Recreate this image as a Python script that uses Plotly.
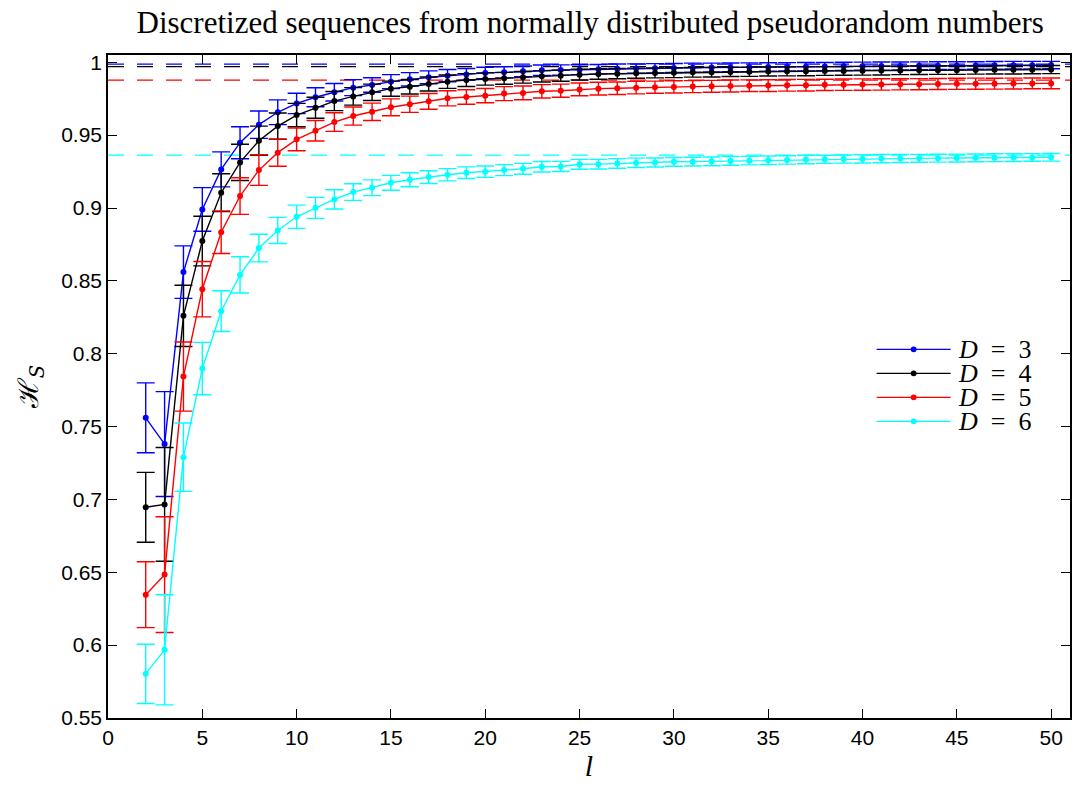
import plotly.graph_objects as go

# Block length l
l_values = list(range(2, 51))

# Mean normalized entropy H_S for each embedding dimension D
h_d3 = [0.756, 0.738, 0.856, 0.899, 0.9265, 0.9448, 0.9572, 0.9657, 0.9718, 0.976,
        0.9794, 0.9826, 0.9844, 0.9867, 0.9883, 0.9897, 0.9908, 0.9917, 0.9927, 0.9931,
        0.9938, 0.9945, 0.9947, 0.9949, 0.9952, 0.9955, 0.9957, 0.9959, 0.9961, 0.9963,
        0.9964, 0.9965, 0.9966, 0.9968, 0.9969, 0.997, 0.9971, 0.9972, 0.9973, 0.9974,
        0.9975, 0.9976, 0.9977, 0.9977, 0.9978, 0.9979, 0.998, 0.998, 0.9981]
h_d4 = [0.6946, 0.6966, 0.826, 0.8773, 0.9105, 0.9313, 0.9462, 0.9562, 0.9638, 0.9688,
        0.9734, 0.9766, 0.9794, 0.9819, 0.9832, 0.9851, 0.9867, 0.9878, 0.9885, 0.989,
        0.9897, 0.9904, 0.9908, 0.9915, 0.992, 0.9922, 0.9925, 0.9927, 0.9929, 0.9931,
        0.9932, 0.9934, 0.9935, 0.9937, 0.9938, 0.9939, 0.994, 0.9941, 0.9942, 0.9943,
        0.9944, 0.9945, 0.9946, 0.9946, 0.9947, 0.9948, 0.9948, 0.9949, 0.995]
h_d5 = [0.6346, 0.6484, 0.7843, 0.8443, 0.8834, 0.9082, 0.926, 0.938, 0.9471, 0.953,
        0.959, 0.9631, 0.966, 0.9691, 0.9712, 0.9732, 0.9753, 0.9762, 0.9771, 0.9785,
        0.979, 0.9801, 0.9805, 0.9814, 0.9819, 0.9822, 0.9826, 0.9829, 0.9831, 0.9833,
        0.9835, 0.9837, 0.9839, 0.984, 0.9842, 0.9843, 0.9845, 0.9846, 0.9847, 0.9848,
        0.9849, 0.985, 0.9851, 0.9852, 0.9853, 0.9853, 0.9854, 0.9855, 0.9855]
h_d6 = [0.5803, 0.5968, 0.729, 0.7898, 0.8292, 0.8541, 0.8725, 0.8846, 0.894, 0.9001,
        0.9059, 0.9109, 0.9139, 0.9173, 0.9194, 0.9212, 0.9228, 0.9242, 0.9249, 0.926,
        0.9269, 0.9283, 0.9285, 0.93, 0.9301, 0.9306, 0.931, 0.9312, 0.9317, 0.9318,
        0.932, 0.9323, 0.9325, 0.9328, 0.933, 0.9333, 0.9334, 0.9336, 0.9337, 0.9339,
        0.934, 0.9341, 0.9342, 0.9343, 0.9344, 0.9345, 0.9346, 0.9347, 0.9348]

# Standard deviations (error bar half-lengths)
sd_d3 = [0.024, 0.036, 0.018, 0.015, 0.012, 0.011, 0.0094, 0.0085, 0.007, 0.0065,
         0.006, 0.0055, 0.005, 0.0048, 0.0046, 0.0044, 0.0042, 0.004, 0.0039, 0.0038,
         0.0037, 0.0036, 0.0035, 0.0034, 0.0033, 0.0033, 0.0032, 0.0032, 0.0031, 0.0031,
         0.003, 0.003, 0.003, 0.0029, 0.0029, 0.0029, 0.0028, 0.0028, 0.0028, 0.0028,
         0.0027, 0.0027, 0.0027, 0.0027, 0.0026, 0.0026, 0.0026, 0.0026, 0.0025]
sd_d4 = [0.024, 0.039, 0.021, 0.017, 0.013, 0.0124, 0.01, 0.009, 0.008, 0.0072,
         0.0066, 0.006, 0.0056, 0.0052, 0.005, 0.0048, 0.0046, 0.0044, 0.0042, 0.0041,
         0.004, 0.0039, 0.0038, 0.0037, 0.0036, 0.0035, 0.0035, 0.0034, 0.0034, 0.0033,
         0.0033, 0.0032, 0.0032, 0.0031, 0.0031, 0.0031, 0.003, 0.003, 0.003, 0.003,
         0.0029, 0.0029, 0.0029, 0.0029, 0.0028, 0.0028, 0.0028, 0.0028, 0.0028]
sd_d5 = [0.0226, 0.0397, 0.0237, 0.019, 0.0146, 0.0126, 0.0105, 0.0093, 0.0078, 0.007,
         0.0064, 0.0062, 0.006, 0.0058, 0.0056, 0.0054, 0.0052, 0.005, 0.0049, 0.0048,
         0.0047, 0.0046, 0.0045, 0.0044, 0.0044, 0.0043, 0.0043, 0.0042, 0.0042, 0.0041,
         0.0041, 0.0041, 0.004, 0.004, 0.004, 0.004, 0.0039, 0.0039, 0.0039, 0.0039,
         0.0038, 0.0038, 0.0038, 0.0038, 0.0038, 0.0037, 0.0037, 0.0037, 0.0037]
sd_d6 = [0.0203, 0.0378, 0.0235, 0.018, 0.014, 0.0124, 0.0095, 0.009, 0.008, 0.0072,
         0.0066, 0.0057, 0.0054, 0.0051, 0.0048, 0.0044, 0.0042, 0.004, 0.0039, 0.0038,
         0.0037, 0.0036, 0.0035, 0.0034, 0.0033, 0.0033, 0.0032, 0.0031, 0.003, 0.003,
         0.003, 0.003, 0.0029, 0.0029, 0.0029, 0.0029, 0.0028, 0.0028, 0.0028, 0.0028,
         0.0028, 0.0027, 0.0027, 0.0027, 0.0027, 0.0027, 0.0027, 0.0026, 0.0026]

# Asymptotic (limit) values drawn as dashed reference lines
limit_d3 = 0.9988
limit_d4 = 0.997
limit_d5 = 0.9878
limit_d6 = 0.9363

x_range = [0, 51]
y_range = [0.55, 1.005]

series = [
    ("<i>D</i>\u2002=\u20023", h_d3, sd_d3, limit_d3, "#0000ff"),
    ("<i>D</i>\u2002=\u20024", h_d4, sd_d4, limit_d4, "#000000"),
    ("<i>D</i>\u2002=\u20025", h_d5, sd_d5, limit_d5, "#ff0000"),
    ("<i>D</i>\u2002=\u20026", h_d6, sd_d6, limit_d6, "#00ffff"),
]

fig = go.Figure()

# Dashed limit lines first so curves sit on top
for name, h, sd, lim, color in series:
    fig.add_trace(go.Scatter(
        x=x_range, y=[lim, lim], mode="lines",
        line=dict(color=color, width=1.3, dash="16px,13px"),
        showlegend=False, hoverinfo="skip",
    ))

for name, h, sd, lim, color in series:
    fig.add_trace(go.Scatter(
        x=l_values, y=h, name=name, mode="lines+markers",
        line=dict(color=color, width=1.4),
        marker=dict(color=color, size=6),
        error_y=dict(type="data", array=sd, visible=True,
                     color=color, thickness=1.4, width=9),
        showlegend=False,
    ))

# Compact legend box (paper coordinates): line sample, dot, then label
leg_x0, leg_x1, leg_text_x = 0.799, 0.876, 0.882
leg_y_top, leg_dy = 0.556, 0.0362
for i, (name, h, sd, lim, color) in enumerate(series):
    yy = leg_y_top - i * leg_dy
    fig.add_shape(type="line", xref="paper", yref="paper",
                  x0=leg_x0, x1=leg_x1, y0=yy, y1=yy,
                  line=dict(color=color, width=1.4))
    xm = (leg_x0 + leg_x1) / 2
    fig.add_shape(type="circle", xref="paper", yref="paper",
                  x0=xm - 0.0031, x1=xm + 0.0031, y0=yy - 0.0045, y1=yy + 0.0045,
                  line=dict(color=color, width=0), fillcolor=color)
    fig.add_annotation(xref="paper", yref="paper", x=leg_text_x, y=yy,
                       xanchor="left", yanchor="middle", showarrow=False,
                       text=name,
                       font=dict(family="Liberation Serif, serif", size=26, color="black"))

axis_common = dict(
    showgrid=False, zeroline=False,
    showline=True, linecolor="black", linewidth=1.5,
    mirror="ticks", ticks="inside", ticklen=9, tickwidth=1.2, tickcolor="black",
    tickfont=dict(family="Liberation Sans, Arial, sans-serif", size=21, color="black"),
)

fig.update_layout(
    width=1077, height=787,
    margin=dict(l=108, r=5, t=55, b=69),
    paper_bgcolor="white", plot_bgcolor="white",
    title=dict(
        text="Discretized sequences from normally distributed pseudorandom numbers",
        x=0.548, xanchor="center", y=0.972, yanchor="middle",
        font=dict(family="Liberation Serif, serif", size=31, color="black"),
    ),
    xaxis=dict(
        range=x_range, tickmode="array",
        tickvals=[0, 5, 10, 15, 20, 25, 30, 35, 40, 45, 50],
        title=dict(text="<i>l</i>", standoff=6,
                   font=dict(family="Liberation Serif, serif", size=30, color="black")),
        **axis_common,
    ),
    yaxis=dict(
        range=y_range, tickmode="array",
        tickvals=[0.55, 0.6, 0.65, 0.7, 0.75, 0.8, 0.85, 0.9, 0.95, 1.0],
        ticktext=["0.55", "0.6", "0.65", "0.7", "0.75", "0.8", "0.85", "0.9", "0.95", "1"],
        title=dict(text="ℋ<sub><i>S</i></sub>", standoff=14,
                   font=dict(family="DejaVu Serif, serif", size=28, color="black")),
        **axis_common,
    ),
    showlegend=False,
)

fig.write_html("out.html")
